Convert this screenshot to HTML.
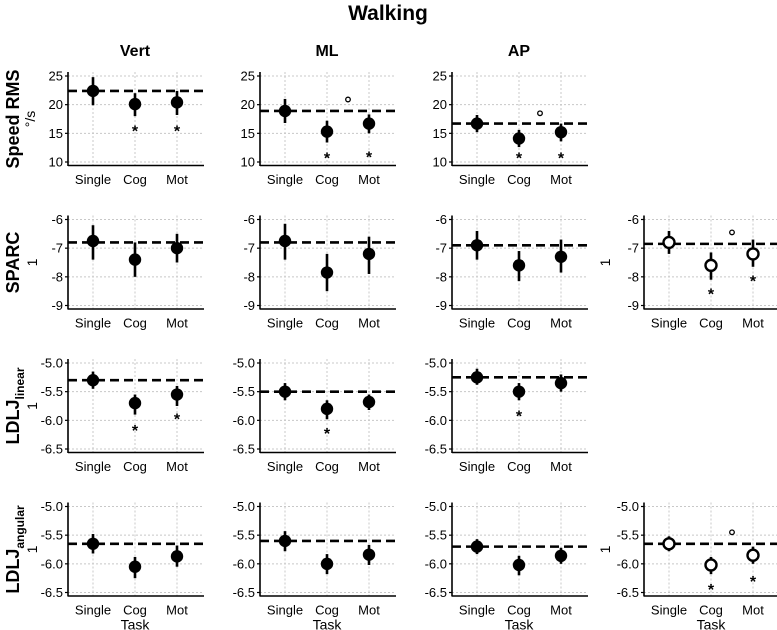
<!DOCTYPE html>
<html><head><meta charset="utf-8"><style>
body{margin:0;background:#fff}
svg{display:block;font-family:"Liberation Sans",Arial,sans-serif}
</style></head><body>
<svg id="chart" width="777" height="630" viewBox="0 0 777 630">
<text x="388" y="20" text-anchor="middle" font-size="21" font-weight="bold">Walking</text>
<text x="135" y="56" text-anchor="middle" font-size="16" font-weight="bold">Vert</text>
<text x="327" y="56" text-anchor="middle" font-size="16" font-weight="bold">ML</text>
<text x="519" y="56" text-anchor="middle" font-size="16" font-weight="bold">AP</text>
</svg>
<script>
const categories = ["Single","Cog","Mot"];
const rowNames = ["Speed RMS","SPARC","LDLJ linear","LDLJ angular"];
const rowTicks = [[10,15,20,25],[-9,-8,-7,-6],[-6.5,-6.0,-5.5,-5.0],[-6.5,-6.0,-5.5,-5.0]];
const rowTickLabels = [["10","15","20","25"],["-9","-8","-7","-6"],["-6.5","-6.0","-5.5","-5.0"],["-6.5","-6.0","-5.5","-5.0"]];
// each panel: [row, col, hollow]
const panelIds = [[0,0,0],[0,1,0],[0,2,0],[1,0,0],[1,1,0],[1,2,0],[1,3,1],[2,0,0],[2,1,0],[2,2,0],[3,0,0],[3,1,0],[3,2,0],[3,3,1]];
const means = [[22.4,20.1,20.4],[18.9,15.3,16.7],[16.7,14.1,15.2],[-6.75,-7.4,-7.0],[-6.75,-7.85,-7.2],[-6.9,-7.6,-7.3],[-6.8,-7.6,-7.2],[-5.3,-5.7,-5.55],[-5.5,-5.8,-5.68],[-5.25,-5.5,-5.35],[-5.65,-6.05,-5.87],[-5.6,-6.0,-5.84],[-5.7,-6.02,-5.86],[-5.65,-6.02,-5.85]];
const lows = [[19.9,18.0,18.2],[16.8,13.4,15.0],[15.2,12.6,13.6],[-7.4,-8.0,-7.5],[-7.4,-8.5,-7.9],[-7.4,-8.15,-7.85],[-7.2,-8.1,-7.65],[-5.45,-5.9,-5.75],[-5.65,-5.98,-5.82],[-5.38,-5.65,-5.5],[-5.82,-6.25,-6.05],[-5.78,-6.18,-6.02],[-5.83,-6.2,-6.0],[-5.78,-6.18,-6.0]];
const highs = [[24.8,22.0,22.4],[21.0,17.2,18.3],[18.2,15.6,16.7],[-6.2,-6.8,-6.5],[-6.15,-7.2,-6.6],[-6.4,-7.1,-6.7],[-6.4,-7.15,-6.7],[-5.15,-5.55,-5.4],[-5.35,-5.65,-5.55],[-5.1,-5.35,-5.2],[-5.48,-5.88,-5.68],[-5.43,-5.83,-5.67],[-5.57,-5.86,-5.72],[-5.52,-5.88,-5.7]];
const refLines = [22.4,18.9,16.7,-6.8,-6.8,-6.9,-6.85,-5.3,-5.5,-5.25,-5.65,-5.6,-5.7,-5.65];
const stars = [[null,15.7,15.7],[null,11.0,11.1],[null,11.0,11.0],[null,null,null],[null,null,null],[null,null,null],[null,-8.55,-8.1],[null,-6.15,-5.95],[null,-6.2,null],[null,-5.9,null],[null,null,null],[null,null,null],[null,null,null],[null,-6.42,-6.28]];
const circleMarks = [null,20.9,18.5,null,null,null,-6.45,null,null,null,null,null,null,-5.45];

const NS="http://www.w3.org/2000/svg";
const svg=document.getElementById('chart');
function mk(tag,attrs,parent){const e=document.createElementNS(NS,tag);for(const k in attrs)e.setAttribute(k,attrs[k]);(parent||svg).appendChild(e);return e;}

const colX=c=>68+c*192, rowTop=r=>72+r*143.5;
rowNames.forEach((n,r)=>{
  const cy=rowTop(r)+47;
  const g=mk('g',{transform:`translate(19,${cy}) rotate(-90)`});
  
  
  const t=mk('text',{x:0,y:0,'text-anchor':'middle','font-size':18,'font-weight':'bold'},g);
  if(r>=2){t.textContent='LDLJ';const s=mk('tspan',{'font-size':12,dy:5},t);s.textContent=r==2?'linear':'angular';}
  else t.textContent=n;
  const u=mk('text',{x:0,y:r==0?16:18,'text-anchor':'middle','font-size':14},g);
  u.textContent=r==0?'°/s':'1';
});
[1,3].forEach(r=>{
  const g=mk('g',{transform:`translate(610,${rowTop(r)+47}) rotate(-90)`});
  
  
  const t=mk('text',{x:0,y:0,'text-anchor':'middle','font-size':14},g);t.textContent='1';
});

panelIds.forEach((p,i)=>{
  const [r,c,hollow]=p;
  const x0=colX(c), top=rowTop(r), x1=x0+136;
  const tk=rowTicks[r], vmin=tk[0], vmax=tk[tk.length-1];
  const y=v=>top+90-(v-vmin)/(vmax-vmin)*86;
  const xc=k=>x0+25+k*42;
  const g=mk('g',{});
  
  
  tk.forEach((v,k)=>{
    const gl=mk('line',{x1:x0,x2:x1,y1:y(v),y2:y(v),stroke:'#c8c8c8','stroke-width':1,'stroke-dasharray':'2,2'},g);
    
    
    mk('line',{x1:x0-3,x2:x0,y1:y(v),y2:y(v),stroke:'#000','stroke-width':1.2},g);
    const t=mk('text',{x:x0-5,y:y(v)+4.5,'text-anchor':'end','font-size':13},g);
    t.textContent=rowTickLabels[r][k];
    
    
  });
  categories.forEach((cat,k)=>{
    mk('line',{x1:xc(k),x2:xc(k),y1:top,y2:top+93,stroke:'#c8c8c8','stroke-width':1,'stroke-dasharray':'2,2'},g);
    const t=mk('text',{x:xc(k),y:top+112,'text-anchor':'middle','font-size':13},g);
    t.textContent=cat;
    
    
  });
  mk('line',{x1:x0,x2:x0,y1:top,y2:top+94,stroke:'#000','stroke-width':1.6},g);
  mk('line',{x1:x0,x2:x1,y1:top+93.5,y2:top+93.5,stroke:'#000','stroke-width':1.6},g);
  const rl=mk('line',{x1:x0,x2:x1,y1:y(refLines[i]),y2:y(refLines[i]),stroke:'#000','stroke-width':2.6,'stroke-dasharray':'9,5'},g);
  
  
  categories.forEach((cat,k)=>{
    const eb=mk('line',{x1:xc(k),x2:xc(k),y1:y(lows[i][k]),y2:y(highs[i][k]),stroke:'#000','stroke-width':2.6},g);
    
    
    const pt=mk('circle',{cx:xc(k),cy:y(means[i][k]),r:hollow?5.5:6.2,fill:hollow?'#fff':'#000',stroke:'#000','stroke-width':hollow?2.4:0},g);
    
    
    if(stars[i][k]!==null){
      const s=mk('text',{x:xc(k),y:y(stars[i][k])+7,'text-anchor':'middle','font-size':16,'font-weight':'bold'},g);
      s.textContent='*';
      
      
    }
  });
  if(circleMarks[i]!==null){
    const cm=mk('circle',{cx:(xc(1)+xc(2))/2,cy:y(circleMarks[i]),r:2.3,fill:'none',stroke:'#000','stroke-width':1.3},g);
    
    
  }
  if(r==3){
    const t=mk('text',{x:xc(1),y:top+127,'text-anchor':'middle','font-size':14},g);
    t.textContent='Task';
    
    
  }
});
</script>
</body></html>
